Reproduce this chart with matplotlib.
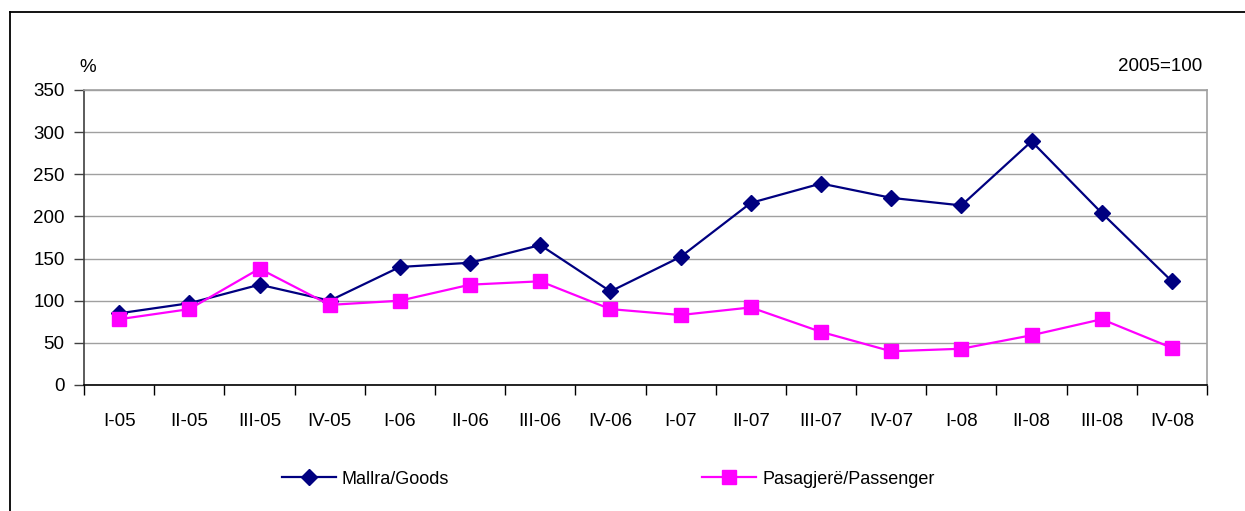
import numpy as np
import matplotlib.pyplot as plt
from matplotlib.lines import Line2D
from matplotlib.ticker import FixedLocator, NullFormatter

plt.rcParams['font.family'] = ['Liberation Sans', 'DejaVu Sans']

quarters = ['I-05', 'II-05', 'III-05', 'IV-05', 'I-06', 'II-06', 'III-06', 'IV-06',
            'I-07', 'II-07', 'III-07', 'IV-07', 'I-08', 'II-08', 'III-08', 'IV-08']
goods = [85, 97, 119, 100, 140, 145, 166, 111, 152, 216, 239, 222, 213, 289, 204, 123]
passenger = [78, 90, 138, 95, 100, 119, 123, 90, 83, 92, 63, 40, 43, 59, 78, 44]

fs = 13.5

fig = plt.figure(figsize=(12.45, 5.11), dpi=100)
ax = fig.add_axes([0.0675, 0.2466, 0.902, 0.5774])

x = np.arange(len(quarters))
ax.plot(x, goods, color='#000080', lw=1.6, marker='D', ms=8, label='Mallra/Goods')
ax.plot(x, passenger, color='#FF00FF', lw=1.6, marker='s', ms=10, label='Pasagjerë/Passenger')

ax.set_xlim(-0.5, len(quarters) - 0.5)
ax.set_ylim(0, 350)
ax.set_yticks(np.arange(0, 351, 50))
ax.yaxis.grid(True, color='#a0a0a0', lw=1)
ax.set_axisbelow(True)

# ticks on category borders, labels in the middle
ax.xaxis.set_major_locator(FixedLocator(np.arange(-0.5, len(quarters), 1)))
ax.xaxis.set_major_formatter(NullFormatter())
ax.xaxis.set_minor_locator(FixedLocator(x))
ax.set_xticklabels(quarters, minor=True)
ax.tick_params(axis='x', which='major', direction='out', length=7, width=1, color='black')
ax.tick_params(axis='x', which='minor', length=0, pad=20, labelsize=fs)
ax.tick_params(axis='y', direction='out', length=7, width=1, color='#404040', labelsize=fs, pad=7)

ax.spines['top'].set_color('#a0a0a0')
ax.spines['right'].set_color('#a0a0a0')
ax.spines['left'].set_color('#404040')
ax.spines['bottom'].set_color('black')
for s in ax.spines.values():
    s.set_linewidth(1.2)

fig.text(0.064, 0.868, '%', fontsize=fs, ha='left', va='center')
fig.text(0.966, 0.870, '2005=100', fontsize=fs, ha='right', va='center')

fig.legend(loc='center', bbox_to_anchor=(0.4884, 0.062), ncol=2, frameon=False,
           fontsize=13, handlelength=3.0, columnspacing=14.0, handletextpad=0.33)

# outer frame (runs off the right and bottom edge)
fig.add_artist(Line2D([0.008, 0.008], [0, 0.977], color='black', lw=1.3, transform=fig.transFigure))
fig.add_artist(Line2D([0.008, 1.0], [0.977, 0.977], color='black', lw=1.3, transform=fig.transFigure))

fig.savefig('out.png', dpi=100)
